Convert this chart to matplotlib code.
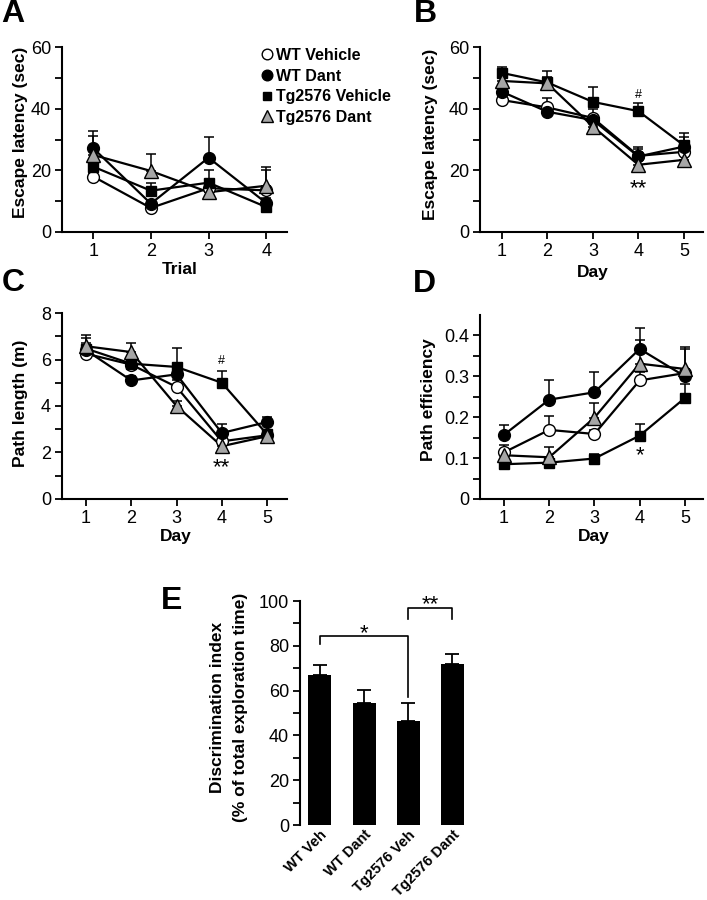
import matplotlib
matplotlib.use('Agg')
import matplotlib.pyplot as plt
from matplotlib.lines import Line2D
from matplotlib.ticker import MultipleLocator
from matplotlib.transforms import offset_copy
import numpy as np

plt.rcParams.update({
    'font.family': ['Liberation Sans', 'DejaVu Sans'],
    'font.size': 12,
    'axes.linewidth': 1.5,
    'xtick.major.width': 1.3,
    'ytick.major.width': 1.3,
    'xtick.minor.width': 1.3,
    'ytick.minor.width': 1.3,
    'xtick.major.size': 5,
    'ytick.major.size': 5,
    'ytick.minor.size': 5,
    'xtick.major.pad': 3,
    'ytick.major.pad': 3,
})

W, H = 707, 900

groups = ['WT Vehicle', 'WT Dant', 'Tg2576 Vehicle', 'Tg2576 Dant']

# Panel A: escape latency per trial
trials = [1, 2, 3, 4]
a_wt_veh = [18.0, 7.8, 14.2, 13.5]
a_wt_dant = [27.2, 9.2, 24.1, 9.4]
a_tg_veh = [21.2, 13.4, 16.0, 8.1]
a_tg_dant = [25.0, 19.8, 12.9, 15.0]
a_wt_veh_err = [1.0, 0.8, 1.5, 6.7]
a_wt_dant_err = [5.7, 1.3, 6.6, 1.5]
a_tg_veh_err = [2.0, 2.6, 4.2, 1.0]
a_tg_dant_err = [6.0, 5.4, 2.0, 6.0]

# Panel B: escape latency per day
days = [1, 2, 3, 4, 5]
b_wt_veh = [42.8, 40.4, 37.0, 24.7, 26.0]
b_wt_dant = [45.5, 39.0, 36.3, 24.5, 27.7]
b_tg_veh = [51.6, 48.5, 42.2, 39.2, 28.1]
b_tg_dant = [49.0, 48.2, 34.2, 21.8, 23.4]
b_wt_veh_err = [1.0, 3.2, 3.0, 3.0, 2.0]
b_wt_dant_err = [1.0, 1.0, 1.0, 2.5, 3.2]
b_tg_veh_err = [2.0, 3.7, 4.9, 2.7, 3.9]
b_tg_dant_err = [1.5, 2.0, 1.5, 1.5, 1.5]

# Panel C: path length (m)
c_wt_veh = [6.25, 5.78, 4.82, 2.48, 2.74]
c_wt_dant = [6.40, 5.10, 5.36, 2.84, 3.31]
c_tg_veh = [6.47, 5.82, 5.68, 5.00, 2.78]
c_tg_dant = [6.57, 6.32, 4.00, 2.27, 2.70]
c_wt_veh_err = [0.2, 0.2, 0.3, 0.2, 0.1]
c_wt_dant_err = [0.3, 0.2, 0.3, 0.4, 0.22]
c_tg_veh_err = [0.47, 0.2, 0.82, 0.5, 0.1]
c_tg_dant_err = [0.5, 0.4, 0.2, 0.2, 0.1]

# Panel D: path efficiency
d_wt_veh = [0.114, 0.169, 0.159, 0.290, 0.308]
d_wt_dant = [0.157, 0.243, 0.261, 0.367, 0.300]
d_tg_veh = [0.085, 0.089, 0.099, 0.155, 0.247]
d_tg_dant = [0.107, 0.102, 0.199, 0.331, 0.318]
d_wt_veh_err = [0.018, 0.033, 0.010, 0.020, 0.010]
d_wt_dant_err = [0.024, 0.049, 0.050, 0.050, 0.067]
d_tg_veh_err = [0.005, 0.005, 0.012, 0.028, 0.035]
d_tg_dant_err = [0.010, 0.024, 0.037, 0.059, 0.054]

# Panel E: discrimination index
e_labels = ['WT Veh', 'WT Dant', 'Tg2576 Veh', 'Tg2576 Dant']
e_means = [67.0, 54.3, 46.3, 71.7]
e_errs = [4.4, 6.0, 8.0, 4.6]

styles = {
    'WT Vehicle': dict(marker='o', mfc='white', ms=8.5),
    'WT Dant': dict(marker='o', mfc='black', ms=8.5),
    'Tg2576 Vehicle': dict(marker='s', mfc='black', ms=7),
    'Tg2576 Dant': dict(marker='^', mfc='#a6a6a6', ms=10),
}


def px_axes(fig, x0, y0, x1, y1):
    return fig.add_axes([x0 / W, 1 - y1 / H, (x1 - x0) / W, (y1 - y0) / H])


def ftext(fig, x, y, s, **kw):
    fig.text(x / W, 1 - y / H, s, ha='center', va='center', **kw)


def stars(ax, x, y, s, size=16):
    # asterisks sit high in the glyph box, so pull them down a bit
    tr = offset_copy(ax.transData, fig=ax.figure, x=0, y=-size * 0.32, units='points')
    ax.text(x, y, s, ha='center', va='center', fontsize=size, transform=tr)


def line_panel(ax, x, ys, errs):
    for g, y, e in zip(groups, ys, errs):
        ax.errorbar(x, y, yerr=[np.zeros(len(e)), e], fmt='none', ecolor='black',
                    elinewidth=1.1, capsize=3.5, capthick=1.1, zorder=1)
    for y in ys:
        ax.plot(x, y, color='black', lw=1.6, zorder=2)
    for g, y in zip(groups, ys):
        st = styles[g]
        ax.plot(x, y, ls='none', marker=st['marker'], mfc=st['mfc'], mec='black',
                mew=1.0, ms=st['ms'], zorder=3)
    ax.spines['top'].set_visible(False)
    ax.spines['right'].set_visible(False)
    ax.tick_params(which='both', direction='out', labelsize=13)
    ax.set_xticks(x)


fig = plt.figure(figsize=(W / 100, H / 100), dpi=100)

# ---- A ----
ax = px_axes(fig, 62, 47, 287, 232)
line_panel(ax, trials, [a_wt_veh, a_wt_dant, a_tg_veh, a_tg_dant],
           [a_wt_veh_err, a_wt_dant_err, a_tg_veh_err, a_tg_dant_err])
ax.set_xlim(0.46, 4.36)
ax.set_ylim(0, 60)
ax.yaxis.set_major_locator(MultipleLocator(20))
ax.yaxis.set_minor_locator(MultipleLocator(10))
handles = [Line2D([], [], ls='none', marker=styles[g]['marker'], mfc=styles[g]['mfc'],
                  mec='black', mew=1.0, ms=styles[g]['ms'] * 0.9) for g in groups]
leg = ax.legend(handles, groups, loc='upper left', bbox_to_anchor=(0.86, 1.03),
                frameon=False, handlelength=0.6, handletextpad=0.3, labelspacing=0.36,
                borderaxespad=0, prop={'weight': 'bold', 'size': 11.5})
ftext(fig, 21, 132, 'Escape latency (sec)', rotation=90, fontsize=12.5, fontweight='bold')
ftext(fig, 180, 269, 'Trial', fontsize=12.5, fontweight='bold')
ftext(fig, 13, 14, 'A', fontsize=23, fontweight='bold')

# ---- B ----
ax = px_axes(fig, 480, 47, 703, 232)
line_panel(ax, days, [b_wt_veh, b_wt_dant, b_tg_veh, b_tg_dant],
           [b_wt_veh_err, b_wt_dant_err, b_tg_veh_err, b_tg_dant_err])
ax.set_xlim(0.52, 5.42)
ax.set_ylim(0, 60)
ax.yaxis.set_major_locator(MultipleLocator(20))
ax.yaxis.set_minor_locator(MultipleLocator(10))
ax.text(4, 44.5, '#', ha='center', va='center', fontsize=9)
stars(ax, 4, 16.4, '**')
ftext(fig, 430, 134, 'Escape latency (sec)', rotation=90, fontsize=12.5, fontweight='bold')
ftext(fig, 593, 272, 'Day', fontsize=12.5, fontweight='bold')
ftext(fig, 425, 14, 'B', fontsize=23, fontweight='bold')

# ---- C ----
ax = px_axes(fig, 62, 313, 287, 499)
line_panel(ax, days, [c_wt_veh, c_wt_dant, c_tg_veh, c_tg_dant],
           [c_wt_veh_err, c_wt_dant_err, c_tg_veh_err, c_tg_dant_err])
ax.set_xlim(0.47, 5.44)
ax.set_ylim(0, 8)
ax.yaxis.set_major_locator(MultipleLocator(2))
ax.yaxis.set_minor_locator(MultipleLocator(1))
ax.text(4, 5.95, '#', ha='center', va='center', fontsize=9)
stars(ax, 4, 1.66, '**')
ftext(fig, 21, 403, 'Path length (m)', rotation=90, fontsize=12.5, fontweight='bold')
ftext(fig, 176, 537, 'Day', fontsize=12.5, fontweight='bold')
ftext(fig, 13, 283, 'C', fontsize=23, fontweight='bold')

# ---- D ----
ax = px_axes(fig, 480, 315, 703, 499)
line_panel(ax, days, [d_wt_veh, d_wt_dant, d_tg_veh, d_tg_dant],
           [d_wt_veh_err, d_wt_dant_err, d_tg_veh_err, d_tg_dant_err])
ax.set_xlim(0.47, 5.4)
ax.set_ylim(0, 0.45)
ax.set_yticks([0, 0.1, 0.2, 0.3, 0.4])
ax.set_yticklabels(['0', '0.1', '0.2', '0.3', '0.4'])
ax.set_yticks([0.05, 0.15, 0.25, 0.35], minor=True)
stars(ax, 4, 0.124, '*')
ftext(fig, 428, 400, 'Path efficiency', rotation=90, fontsize=12.5, fontweight='bold')
ftext(fig, 594, 537, 'Day', fontsize=12.5, fontweight='bold')
ftext(fig, 424, 284, 'D', fontsize=23, fontweight='bold')

# ---- E ----
ax = px_axes(fig, 300, 601, 470, 825)
xe = np.arange(len(e_labels))
ax.bar(xe, e_means, width=0.52, color='black', zorder=2)
ax.errorbar(xe, e_means, yerr=[np.zeros(len(e_errs)), e_errs], fmt='none', ecolor='black',
            elinewidth=1.3, capsize=5, capthick=1.3, zorder=1)
ax.set_xlim(-0.45, 3.4)
ax.set_ylim(0, 100)
ax.yaxis.set_major_locator(MultipleLocator(20))
ax.yaxis.set_minor_locator(MultipleLocator(10))
for s in ['top', 'right', 'bottom']:
    ax.spines[s].set_visible(False)
ax.tick_params(which='both', direction='out', labelsize=13)
ax.tick_params(axis='x', length=0, pad=2)
ax.set_xticks(xe)
ax.set_xticklabels(e_labels, rotation=45, ha='right', va='top', rotation_mode='anchor',
                   fontweight='bold', fontsize=10.5)
ax.plot([0, 0, 2, 2], [80.8, 84.4, 84.4, 57.3], color='black', lw=1.2, clip_on=False)
ax.plot([2, 2, 3, 3], [91.8, 97, 97, 91.8], color='black', lw=1.2, clip_on=False)
stars(ax, 1, 88.5, '*')
stars(ax, 2.5, 101.5, '**')
ftext(fig, 218, 707, 'Discrimination index', rotation=90, fontsize=12.5, fontweight='bold')
ftext(fig, 240, 707, '(% of total exploration time)', rotation=90, fontsize=12.5,
      fontweight='bold')
ftext(fig, 172, 601, 'E', fontsize=23, fontweight='bold')

fig.savefig('out.png', dpi=100)
